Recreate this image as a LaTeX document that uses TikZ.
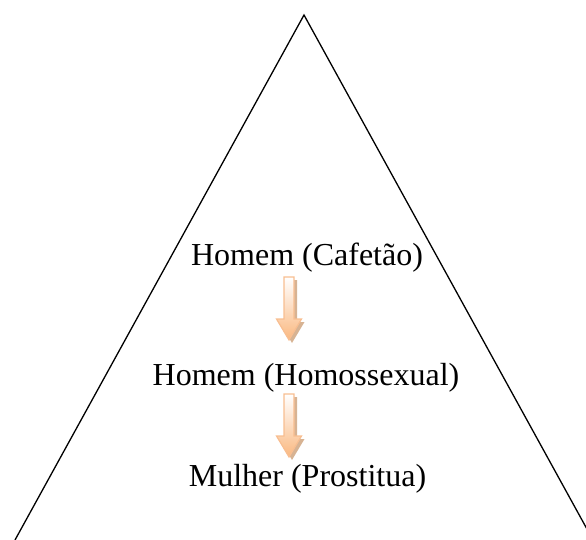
\documentclass[tikz,border=0pt]{standalone}
\usepackage{fontspec}
\setmainfont{Liberation Serif}
\definecolor{arroworange}{RGB}{250,184,128}
\definecolor{arrowedge}{RGB}{248,190,145}
\definecolor{arrowshadow}{RGB}{205,160,120}
\tikzset{
  x=1pt, y=1pt,
  tri/.style={draw=black, line width=1.3pt, line join=miter},
  label/.style={anchor=base, inner sep=0pt, font=\fontsize{32}{38}\selectfont},
  blockarrow/.pic={
    \fill[arrowshadow, opacity=0.8] (-2,-3) -- (8,-3) -- (8,-45) -- (15.5,-45) -- (3,-66) -- (-9.5,-45) -- (-2,-45) -- cycle;
    \draw[draw=arrowedge, line width=1.2pt, top color=white, bottom color=arroworange, line join=miter]
      (-5,0) -- (5,0) -- (5,-42) -- (12.5,-42) -- (0,-63) -- (-12.5,-42) -- (-5,-42) -- cycle;
  }
}
\begin{document}
\begin{tikzpicture}
\useasboundingbox (0,0) rectangle (586,-540);
\begin{scope}
\clip (0,0) rectangle (586,-540);
\coordinate (apex) at (304,-15);
\coordinate (bl) at (15,-540);
\coordinate (br) at (593,-540);
\draw[tri] (bl) -- (apex) -- (br);
\end{scope}
\node[label] (cafetao) at (307,-265) {Homem (Cafetão)};
\node[label] (homo) at (306,-385) {Homem (Homossexual)};
\node[label] (mulher) at (307.5,-486) {Mulher (Prostitua)};
\coordinate (a1) at (289,-277);
\coordinate (a2) at (289,-394);
\pic at (a1) {blockarrow};
\pic at (a2) {blockarrow};
\end{tikzpicture}
\end{document}
